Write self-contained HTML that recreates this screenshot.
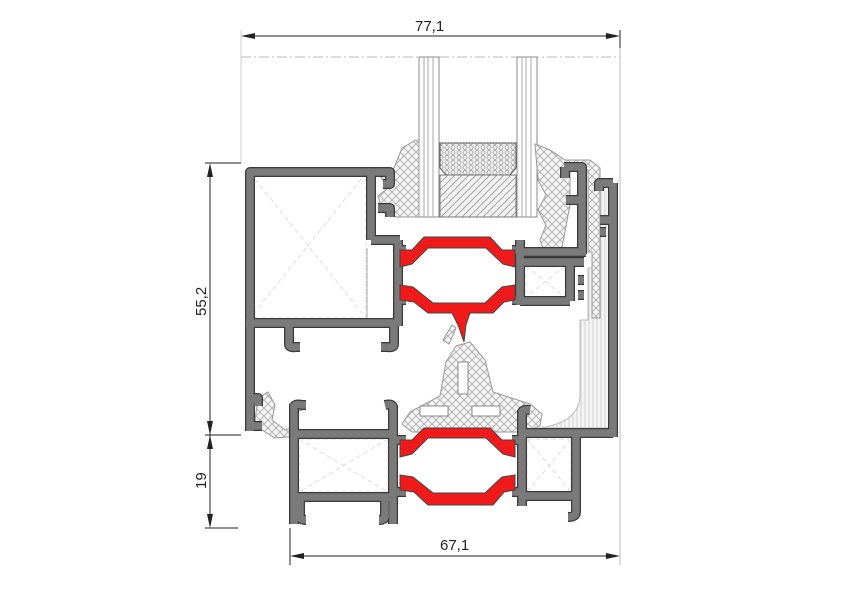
<!DOCTYPE html>
<html><head><meta charset="utf-8"><style>
html,body{margin:0;padding:0;background:#fff}
svg{display:block}
text{font-family:"Liberation Sans",Arial,sans-serif;font-size:15px;fill:#222}
.wo{fill:none;stroke:#3a3a3a;stroke-width:10;stroke-linejoin:round;stroke-linecap:butt}
.wi{fill:none;stroke:#7a7a7a;stroke-width:7.5;stroke-linejoin:round;stroke-linecap:butt}
.red{fill:#f01a1a;stroke:#444;stroke-width:1}
.gk{fill:url(#xh);stroke:#999;stroke-width:1}
.dim{stroke:#222;stroke-width:1;fill:none}
.lt{stroke:#ccc;stroke-width:1;fill:none}
.dd{stroke:#ddd;stroke-width:1;stroke-dasharray:5 3;fill:none}
</style></head><body>
<svg width="850" height="600" viewBox="0 0 850 600" xmlns="http://www.w3.org/2000/svg">
<defs>
<pattern id="xh" width="8" height="8" patternUnits="userSpaceOnUse">
<rect width="8" height="8" fill="#f4f4f4"/>
<path d="M0,0L8,8M8,0L0,8" stroke="#aaa" stroke-width="0.8"/>
</pattern>
<pattern id="vl" width="4" height="4" patternUnits="userSpaceOnUse">
<rect width="4" height="4" fill="#f3f3f3"/>
<path d="M1,0V4" stroke="#ccc" stroke-width="0.8"/>
</pattern>
<pattern id="dg" width="7" height="7" patternUnits="userSpaceOnUse">
<rect width="7" height="7" fill="#f2f2f2"/>
<path d="M0,7L7,0M-2,2L2,-2M5,9L9,5" stroke="#999" stroke-width="0.8"/>
</pattern>
<pattern id="hc" width="6" height="5" patternUnits="userSpaceOnUse">
<rect width="6" height="5" fill="#eee"/>
<circle cx="3" cy="2.5" r="2" fill="none" stroke="#999" stroke-width="0.7"/>
</pattern>
<path id="pr" fill="none" d="M262,426H250V398H258V406 M250,431V172H371V240 M246,323H398 M289,323V344Q289,348 296,347H300 M394,323V344Q394,348 387,347H381
M371,172H390V184H383 M378,208H390V217 M371,240H400 M398,240V326 M398,250H406M398,300H406
M294,408Q294,403 302,405H306 M294,404V524 M294,434H392 M294,497H392 M393,405V524 M393,408Q393,403 385,405 M393,440H406M393,492H406 M300,497V516Q300,520 306,520 M385,497V516Q385,520 379,520
M522,413Q522,409 530,410 M522,410V506 M522,433H613 M613,183V437 M613,183H599V191 M600,220H613M600,232H606 M576,434V512Q576,517 568,517 M522,496H576 M522,440H512M522,492H512
M564,167H582V254 M565,167V178 M566,200H582 M520,252H586 M520,240V305 M520,262H584 M520,301H570 M570,262V301 M578,280H584M578,295H584 M512,250H520M512,300H520"/>
</defs>

<line class="lt" x1="241" y1="30" x2="241" y2="163"/>
<line x1="620" y1="30" x2="620" y2="565" stroke="#bbb" stroke-width="1"/>
<line x1="620" y1="30" x2="620" y2="48" stroke="#222" stroke-width="1"/>
<line x1="290" y1="528" x2="290" y2="565" stroke="#222" stroke-width="1"/>
<line x1="241" y1="57" x2="620" y2="57" stroke="#bbb" stroke-width="1" stroke-dasharray="10 3 2 3"/>
<line class="dim" x1="243" y1="36" x2="618" y2="36"/>
<path d="M241,36l14,-3v6z M620,36l-14,-3v6z" fill="#222"/>
<text x="415" y="31">77,1</text>
<line class="dim" x1="292" y1="556" x2="618" y2="556"/>
<path d="M290,556l14,-3v6z M620,556l-14,-3v6z" fill="#222"/>
<text x="440" y="550">67,1</text>
<line class="dim" x1="205" y1="163" x2="241" y2="163"/>
<line class="dim" x1="205" y1="435" x2="241" y2="435"/>
<line class="dim" x1="205" y1="528" x2="238" y2="528"/>
<line class="dim" x1="210" y1="165" x2="210" y2="526"/>
<path d="M210,163l-3,14h6z M210,435l-3,-14h6z M210,435l-3,14h6z M210,528l-3,-14h6z" fill="#222"/>
<text transform="translate(206,316) rotate(-90)">55,2</text>
<text transform="translate(206,489) rotate(-90)">19</text>

<rect x="419" y="57" width="20" height="160" fill="#fff" stroke="#888"/>
<path d="M424,57V217M428,57V217M433,57V217" stroke="#aaa"/>
<rect x="517" y="57" width="20" height="160" fill="#fff" stroke="#888"/>
<path d="M522,57V217M526,57V217M531,57V217" stroke="#aaa"/>
<path d="M440,143H516V168L510,175H446L440,168Z" fill="url(#hc)" stroke="#555"/>
<rect x="440" y="175" width="76" height="42" fill="url(#dg)" stroke="#777"/>

<g class="dd">
<path d="M250,173H366V318H250Z M250,173L366,318M366,173L250,318"/>
<path d="M299,439H388V492H299Z M299,439L388,492M388,439L299,492"/>
<path d="M527,439H571V492H527Z M527,439L571,492M571,439L527,492"/>
<path d="M526,266H565V297H526Z M526,266L565,297M565,266L526,297"/>
</g>
<line x1="367" y1="248" x2="367" y2="318" stroke="#aaa" stroke-width="1"/>

<path d="M588,268V320H580V395Q580,422 540,428H609V183H600V268Z" fill="url(#vl)" stroke="#bbb"/>

<path class="gk" d="M402,148L416,140L419,142V217H396L382,210L378,196L388,188L380,176L394,168Z"/>
<path class="gk" d="M535,144L550,150L565,160L590,160L600,168V318H592V252H588V170H570V205L560,258L548,262L540,240L546,225L538,210L546,195L538,180Z"/>
<path class="gk" d="M456,346L470,342L485,360L493,392L530,404L542,414L540,426L525,432H412L402,424L410,412L440,396L446,362Z"/>
<rect x="458" y="362" width="10" height="32" fill="#fff" stroke="#888"/>
<rect x="420" y="406" width="28" height="10" fill="#fff" stroke="#888"/>
<rect x="472" y="406" width="28" height="10" fill="#fff" stroke="#888"/>
<path class="gk" d="M443,340L452,325L456,328L449,344Z"/>
<path class="gk" d="M258,398L268,392L275,405L272,420L285,430L298,426V436L275,438L262,430L255,420Z"/>
<path class="gk" d="M292,405Q294,398 300,402L302,410L296,412Z"/>

<use href="#pr" class="wo"/>
<use href="#pr" class="wi"/>

<path class="red" d="M424,237H490L502,250H515V267L503,264L486,248H428L412,264L400,267V250H412Z"/>
<path class="red" d="M400,285L413,287L433,303H485L502,287L515,285V300L504,302L493,313H470L466,325L464,342L458,325L452,313H428L414,302L400,300Z"/>
<path class="red" d="M424,428H490L502,440H515V457L503,454L486,438H428L412,454L400,457V440H412Z"/>
<path class="red" d="M400,475L413,477L433,493H485L502,477L515,475V490L504,492L493,505H428L414,492L400,490Z"/>
</svg>
</body></html>
